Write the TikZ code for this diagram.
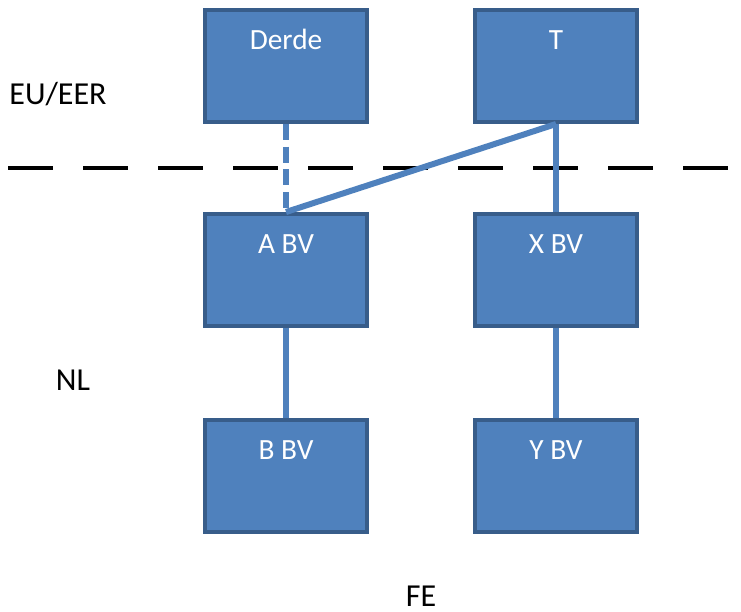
\documentclass[tikz,border=0pt]{standalone}
\usepackage{fontspec}
\setmainfont{Carlito}
\definecolor{boxfill}{HTML}{4F81BD}
\definecolor{boxline}{HTML}{385D8A}

\begin{document}
\begin{tikzpicture}[x=0.75pt, y=-0.75pt,
  unit/.style={draw=boxline, fill=boxfill, line width=3pt, minimum width=121.5pt, minimum height=84pt,
    inner sep=0pt, text=white, text height=13.5pt, text depth=39pt, font=\fontsize{22}{26}\selectfont},
  zone/.style={anchor=base, inner sep=0pt, font=\fontsize{24}{28}\selectfont},
  link/.style={draw=boxfill, line width=4.5pt}]
  \useasboundingbox (0,0) rectangle (741,611);
  % grens EU/EER - NL
  \coordinate (grensL) at (8,168);
  \coordinate (grensR) at (730,168);
  \draw[line width=3pt, dash pattern=on 33.75pt off 22.5pt] (grensL) -- (grensR);
  \node[zone] (eu) at (58,104) {EU/EER};
  \node[zone] (nl) at (73,390) {NL};
  \node[zone] (fe) at (421,606) {FE};
  \foreach \name/\x/\y/\lab in {derde/286/66/Derde, t/556/66/T, abv/286/270/A BV, xbv/556/270/X BV, bbv/286/476/B BV, ybv/556/476/Y BV} {
    \node[unit] (\name) at (\x,\y) {\lab};
  }
  \draw[link, dash pattern=on 12pt off 5pt] (derde.south) -- (abv.north);
  \draw[link] (t.south) -- (abv.north);
  \draw[link] (t.south) -- (xbv.north);
  \draw[link] (abv.south) -- (bbv.north);
  \draw[link] (xbv.south) -- (ybv.north);
\end{tikzpicture}
\end{document}
